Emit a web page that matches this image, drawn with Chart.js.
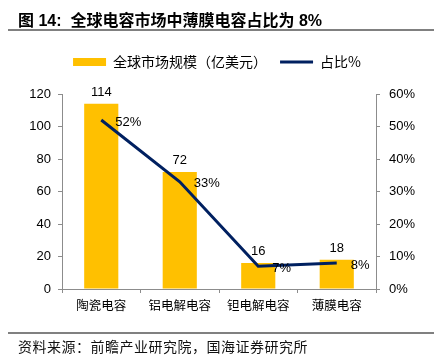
<!DOCTYPE html>
<html lang="zh">
<head>
<meta charset="UTF-8">
<title>全球电容市场中薄膜电容占比为 8%</title>
<script src="https://cdn.jsdelivr.net/npm/chart.js"></script>
<style>
body { margin: 0; background: #fff; }
#wrap { position: relative; width: 434px; height: 359px; overflow: hidden; }
#title {
    position: absolute; left: 18px; top: 7px;
    font: bold 16px "Liberation Sans", "Noto Sans CJK SC", sans-serif;
    color: #000; white-space: pre;
}
.rule { position: absolute; left: 8px; right: 0; height: 2px; background: #808080; }
#source {
    position: absolute; left: 18px; top: 336px;
    font: 14px "Noto Sans CJK SC", sans-serif; color: #111; white-space: nowrap;
    letter-spacing: 0.5px;
}
#box { position: absolute; left: 0; top: 0; width: 434px; height: 359px; }
</style>
</head>
<body>
<div id="wrap">
    <div id="box"><canvas id="chart"></canvas></div>
    <div id="title">图 14:  全球电容市场中薄膜电容占比为 8%</div>
    <div class="rule" style="top:29px"></div>
    <div class="rule" style="top:332px"></div>
    <div id="source">资料来源：前瞻产业研究院，国海证券研究所</div>
</div>
<script>
const categories = ['陶瓷电容', '铝电解电容', '钽电解电容', '薄膜电容'];
const marketSize = [114, 72, 16, 18];   // 亿美元
const sharePct = [52, 33, 7, 8];        // %
const leftTicks = [0, 20, 40, 60, 80, 100, 120];
const rightTicks = [0, 10, 20, 30, 40, 50, 60];

const yellow = '#FFC000';
const navy = '#002060';
const axisGray = '#8c8c8c';
const numFont = { family: '"Liberation Sans", Arial, sans-serif', size: 13 };
const cjkFont = { family: '"Noto Sans CJK SC", sans-serif', size: 12.5 };

// fix legend box height so the plot starts where the original does
const legendHeight = {
    id: 'legendHeight',
    beforeInit(chart) {
        const fit = chart.legend.fit;
        chart.legend.fit = function () {
            fit.call(this);
            this.height = 52;
        };
    }
};

// value labels: above bars, right of line points
const valueLabels = {
    id: 'valueLabels',
    afterDatasetsDraw(chart) {
        const ctx = chart.ctx;
        ctx.save();
        ctx.fillStyle = '#000';
        ctx.font = '13px "Liberation Sans", Arial, sans-serif';
        chart.getDatasetMeta(0).data.forEach((bar, i) => {
            ctx.textAlign = 'center';
            ctx.textBaseline = 'bottom';
            ctx.fillText(String(marketSize[i]), bar.x, bar.y - 5);
        });
        chart.getDatasetMeta(1).data.forEach((pt, i) => {
            ctx.textAlign = 'left';
            ctx.textBaseline = 'middle';
            ctx.fillText(sharePct[i] + '%', pt.x + 14, pt.y + 2);
        });
        ctx.restore();
    }
};

new Chart(document.getElementById('chart'), {
    data: {
        labels: categories,
        datasets: [
            {
                type: 'bar',
                label: '全球市场规模（亿美元）',
                data: marketSize,
                backgroundColor: yellow,
                borderWidth: 0,
                yAxisID: 'y',
                categoryPercentage: 0.435,
                barPercentage: 1,
                order: 2
            },
            {
                type: 'line',
                label: '占比%',
                data: sharePct,
                borderColor: navy,
                backgroundColor: navy,
                borderWidth: 3,
                pointRadius: 0,
                tension: 0,
                yAxisID: 'y1',
                order: 1
            }
        ]
    },
    options: {
        responsive: true,
        maintainAspectRatio: false,
        animation: false,
        layout: { padding: { top: 42, left: 0, right: 0, bottom: 0 } },
        plugins: {
            tooltip: { enabled: false },
            legend: {
                position: 'top',
                labels: {
                    usePointStyle: true,
                    pointStyleWidth: 33,
                    boxHeight: 8,
                    padding: 13,
                    color: '#000',
                    font: { family: '"Noto Sans CJK SC", sans-serif', size: 14 },
                    generateLabels(chart) {
                        const ds = chart.data.datasets;
                        return [
                            { text: ds[0].label, fillStyle: yellow, strokeStyle: yellow, lineWidth: 0, pointStyle: 'rect', datasetIndex: 0, hidden: false },
                            { text: ds[1].label, fillStyle: navy, strokeStyle: navy, lineWidth: 3, pointStyle: 'line', datasetIndex: 1, hidden: false }
                        ];
                    }
                }
            }
        },
        scales: {
            x: {
                offset: true,
                grid: { display: true, drawOnChartArea: false, tickLength: 4, color: axisGray },
                border: { display: true, color: axisGray },
                ticks: { color: '#000', font: cjkFont, padding: 5, maxRotation: 0 },
                afterFit(s) { s.height = 70; }
            },
            y: {
                position: 'left',
                min: 0, max: 120,
                afterBuildTicks(s) { s.ticks = leftTicks.map(v => ({ value: v })); },
                grid: { display: true, drawOnChartArea: false, tickLength: 4, color: axisGray },
                border: { display: true, color: axisGray },
                ticks: { color: '#000', font: numFont, padding: 7 },
                afterFit(s) { s.width = 62; }
            },
            y1: {
                position: 'right',
                min: 0, max: 60,
                afterBuildTicks(s) { s.ticks = rightTicks.map(v => ({ value: v })); },
                grid: { display: true, drawOnChartArea: false, tickLength: 4, color: axisGray },
                border: { display: true, color: axisGray },
                ticks: { color: '#000', font: numFont, padding: 9, callback: v => v + '%' },
                afterFit(s) { s.width = 58; }
            }
        }
    },
    plugins: [legendHeight, valueLabels]
});
</script>
</body>
</html>
